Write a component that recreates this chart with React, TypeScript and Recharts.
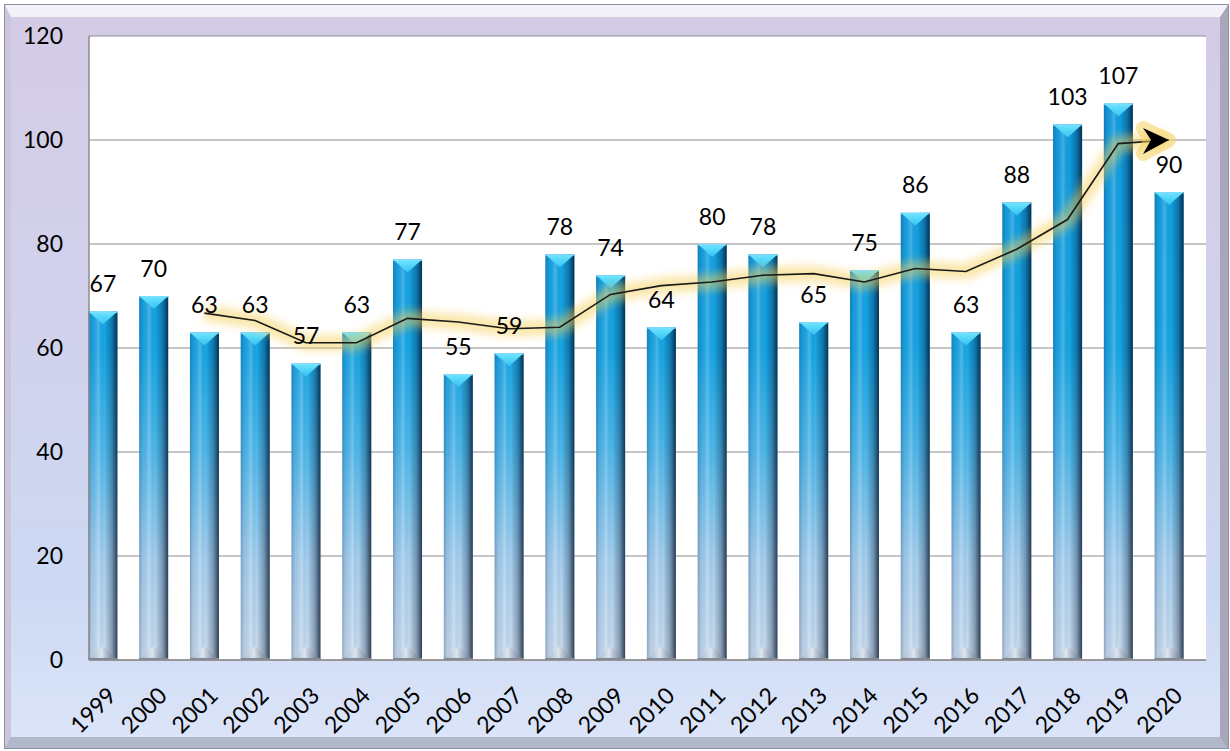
import React from 'react';
import { ComposedChart, Bar, Line, XAxis, YAxis, CartesianGrid, LabelList } from 'recharts';

const years = ['1999', '2000', '2001', '2002', '2003', '2004', '2005', '2006', '2007', '2008', '2009', '2010', '2011', '2012', '2013', '2014', '2015', '2016', '2017', '2018', '2019', '2020'];
const counts = [67, 70, 63, 63, 57, 63, 77, 55, 59, 78, 74, 64, 80, 78, 65, 75, 86, 63, 88, 103, 107, 90];
const trend = [null, null, 66.7, 65.3, 61, 61, 65.7, 65, 63.7, 64, 70.3, 72, 72.7, 74, 74.3, 72.7, 75.3, 74.7, 79, 84.7, 99.3, 100];
const yTicks = [0, 20, 40, 60, 80, 100, 120];

const data = years.map((year, i) => ({ year, count: counts[i], trend: trend[i] }));

const FONT = 'Lato, "Open Sans", sans-serif';
const LAST = years.length - 1;

const BarShape = (props: any) => {
  const { x, y, width, height } = props;
  if (!height || height <= 0) return <g />;
  const cx = x + width / 2;
  return (
    <g>
      <rect x={x} y={y} width={width} height={height} fill="url(#barV)" />
      <rect x={x} y={y} width={width} height={height} fill="url(#barH)" />
      <polygon points={`${x},${y} ${x + width},${y} ${cx},${y + 13}`} fill="url(#barTop)" />
      <rect x={x} y={y} width={width} height={1.5} fill="#7fdcff" opacity={0.8} />
      <polygon points={`${x},${y + height} ${x + width},${y + height} ${cx},${y + height - 14}`} fill="url(#barBot)" />
      <rect x={x} y={y + height - 2} width={width} height={2} fill="#7d8898" />
    </g>
  );
};

const arrowPts = (cx: number, cy: number) =>
  `${cx},${cy} ${cx - 26},${cy - 12} ${cx - 18},${cy} ${cx - 26},${cy + 14}`;

const ArrowDot = (props: any) => {
  const { cx, cy, index } = props;
  if (index !== LAST || cx == null || cy == null) return <g key={`d${index}`} />;
  return <polygon key={`d${index}`} points={arrowPts(cx, cy)} fill="#000" />;
};

const GlowDot = (props: any) => {
  const { cx, cy, index } = props;
  if (index !== LAST || cx == null || cy == null) return <g key={`g${index}`} />;
  return (
    <polygon
      key={`g${index}`}
      points={arrowPts(cx, cy)}
      fill="#f5cf55"
      stroke="#f5cf55"
      strokeWidth={14}
      strokeLinejoin="round"
      opacity={0.5}
    />
  );
};

const YTick = (props: any) => {
  const { x, y, payload } = props;
  return (
    <text x={x - 26} y={y + 8} textAnchor="end" fontFamily={FONT} fontSize={23} fill="#000">
      {payload.value}
    </text>
  );
};

const XTick = (props: any) => {
  const { x, y, payload } = props;
  const ax = x + 15;
  const ay = y + 37;
  return (
    <text
      x={ax}
      y={ay}
      textAnchor="end"
      transform={`rotate(-45, ${ax}, ${ay})`}
      fontFamily={FONT}
      fontSize={23}
      fill="#000"
    >
      {payload.value}
    </text>
  );
};

const BarLabel = (props: any) => {
  const { x, y, width, value } = props;
  return (
    <text x={x + width / 2} y={y - 19.5} textAnchor="middle" fontFamily={FONT} fontSize={23} fill="#000">
      {value}
    </text>
  );
};

export default function App() {
  return (
    <div style={{ position: 'absolute', left: 0, top: 0, width: 1230, height: 751, overflow: 'hidden' }}>
      <style>{'.glow path, .glow polygon { filter: blur(4px); }'}</style>
      <svg width={0} height={0} style={{ position: 'absolute' }}>
        <defs>
          <linearGradient id="barV" gradientUnits="userSpaceOnUse" x1={0} y1={36} x2={0} y2={660}>
            <stop offset="0" stopColor="#0f9ae0" />
            <stop offset="0.5" stopColor="#16a6e6" />
            <stop offset="0.66" stopColor="#4cb8ec" />
            <stop offset="0.84" stopColor="#a6d0f0" />
            <stop offset="1" stopColor="#cadcef" />
          </linearGradient>
          <linearGradient id="barH" x1="0" y1="0" x2="1" y2="0">
            <stop offset="0" stopColor="#142850" stopOpacity={0.3} />
            <stop offset="0.12" stopColor="#142850" stopOpacity={0.08} />
            <stop offset="0.35" stopColor="#ffffff" stopOpacity={0.2} />
            <stop offset="0.55" stopColor="#000000" stopOpacity={0} />
            <stop offset="0.8" stopColor="#001432" stopOpacity={0.3} />
            <stop offset="1" stopColor="#000a1e" stopOpacity={0.75} />
          </linearGradient>
          <linearGradient id="barTop" x1="0" y1="0" x2="0" y2="1">
            <stop offset="0" stopColor="#70e6ff" />
            <stop offset="1" stopColor="#35c2f2" />
          </linearGradient>
          <linearGradient id="barBot" x1="0" y1="0" x2="1" y2="0">
            <stop offset="0" stopColor="#a3afbf" />
            <stop offset="0.45" stopColor="#dbe5f0" />
            <stop offset="0.6" stopColor="#b4c0cf" />
            <stop offset="1" stopColor="#5d6777" />
          </linearGradient>
        </defs>
      </svg>
      <div
        style={{
          position: 'absolute',
          left: 5,
          top: 5,
          width: 1223,
          height: 743,
          boxSizing: 'border-box',
          borderTop: '12px solid #f4f2f9',
          borderLeft: '6px solid #cbc6dc',
          borderRight: '8px solid #aaa6ba',
          borderBottom: '11px solid #b0b8ca',
          boxShadow: '0 0 0 1px #8e8e9c',
          background: 'linear-gradient(to bottom, #d4cbe5 0%, #d1d2ec 45%, #cdd9f3 80%, #dbe4f8 100%)',
        }}
      />
      <div style={{ position: 'absolute', left: 0, top: 0 }}>
        <ComposedChart
          width={1230}
          height={751}
          data={data}
          margin={{ top: 36, right: 24, bottom: 51, left: 29 }}
          barCategoryGap={0}
        >
          <CartesianGrid vertical={false} stroke="#8c8c8c" fill="#ffffff" fillOpacity={1} />
          <XAxis
            dataKey="year"
            height={40}
            padding={{ left: -11.6, right: 11.6 }}
            interval={0}
            tickLine={false}
            tickSize={0}
            tickMargin={0}
            axisLine={{ stroke: '#8c8c8c', strokeWidth: 1.5 }}
            tick={<XTick />}
          />
          <YAxis
            width={60}
            domain={[0, 120]}
            ticks={yTicks}
            interval={0}
            tickLine={false}
            tickSize={0}
            tickMargin={0}
            axisLine={{ stroke: '#8c8c8c', strokeWidth: 1.5 }}
            tick={<YTick />}
          />
          <Bar dataKey="count" barSize={29} shape={<BarShape />} isAnimationActive={false}>
            <LabelList dataKey="count" content={<BarLabel />} />
          </Bar>
          <Line
            dataKey="trend"
            type="linear"
            stroke="#f5cf55"
            strokeWidth={16}
            strokeOpacity={0.5}
            strokeLinejoin="round"
            className="glow"
            dot={GlowDot}
            activeDot={false}
            isAnimationActive={false}
          />
          <Line
            dataKey="trend"
            type="linear"
            stroke="#1a1a1a"
            strokeWidth={1.6}
            dot={ArrowDot}
            activeDot={false}
            isAnimationActive={false}
          />
        </ComposedChart>
      </div>
    </div>
  );
}
